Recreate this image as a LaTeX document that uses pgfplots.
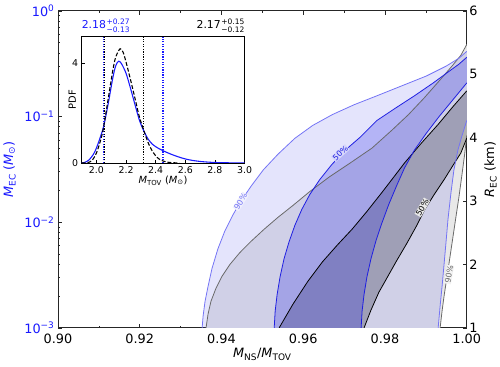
\documentclass[border=0pt]{standalone}
\usepackage{fontspec}
\setmainfont{DejaVu Sans}
\setsansfont{DejaVu Sans}
\usepackage{pgfplots}
\pgfplotsset{compat=1.18}
\usepgfplotslibrary{fillbetween}
\definecolor{mplblue}{RGB}{25,25,255}
\definecolor{bnine}{RGB}{115,115,245}
\definecolor{bfive}{RGB}{30,30,225}
\definecolor{bfill}{RGB}{48,48,230}
\definecolor{gninefill}{RGB}{232,232,232}
\definecolor{gfivefill}{RGB}{176,176,176}
\definecolor{gnineline}{RGB}{105,105,105}
\begin{document}
\begin{tikzpicture}
% ---------------- R_EC (gray) axis ----------------
\begin{axis}[
  at={(0pt,0pt)}, anchor=south west,
  scale only axis, width=414pt, height=321pt,
  set layers,
  xmin=0.9, xmax=1.0, ymin=1, ymax=6,
  hide x axis,
  axis y line*=right,
  ytick={1,2,3,4,5,6},
  tick align=inside,
  major tick length=4pt,
  yticklabel style={font=\fontsize{13}{15}\selectfont, /pgf/number format/assume math mode=true, inner sep=2.5pt},
  ylabel={\textit{R}\textsubscript{EC} (km)},
  ylabel style={font=\fontsize{13}{15}\selectfont, at={(axis description cs:1.058,0.5)}, anchor=center},
  axis line style={line width=0.8pt, black!85},
  every tick/.style={black!85, line width=0.6pt},
]
\addplot[gnineline, line width=0.8pt, name path=GNL] coordinates {
(0.93623,1.000) (0.93672,1.218) (0.93744,1.421) (0.93865,1.623) (0.94010,1.810)
(0.94203,1.997) (0.94445,2.184) (0.94734,2.371) (0.95048,2.558) (0.95386,2.745)
(0.95749,2.931) (0.96160,3.150) (0.96643,3.383) (0.97150,3.601) (0.97681,3.835)
(0.98164,4.115) (0.98575,4.364) (0.98962,4.629) (0.99324,4.894) (0.99638,5.128)
(0.99855,5.299) (1.00000,5.470)};
\addplot[gnineline, line width=0.8pt, name path=GNR] coordinates {
(0.99348,1.000) (0.99396,1.265) (0.99444,1.498) (0.99517,1.810) (0.99590,2.121)
(0.99662,2.433) (0.99734,2.745) (0.99807,3.056) (0.99879,3.399) (0.99952,3.757)
(1.00000,4.037)};
\addplot[black, line width=0.8pt, name path=GFL] coordinates {
(0.95411,1.000) (0.95749,1.374) (0.96111,1.732) (0.96474,2.044) (0.96836,2.308)
(0.97198,2.558) (0.97560,2.838) (0.97923,3.134) (0.98164,3.336) (0.98478,3.601)
(0.98889,3.913) (0.99300,4.209) (0.99662,4.489) (1.00000,4.738)};
\addplot[black, line width=0.8pt, name path=GFR] coordinates {
(0.97488,1.000) (0.97657,1.280) (0.97850,1.561) (0.98068,1.810) (0.98285,2.059)
(0.98527,2.324) (0.98768,2.604) (0.98961,2.854) (0.99203,3.103) (0.99444,3.336)
(0.99686,3.586) (0.99855,3.757) (1.00000,3.991)};
\addplot[fill=gninefill, draw=none] fill between[of=GNL and GNR];
\addplot[fill=gfivefill, draw=none] fill between[of=GFL and GFR];
\node[rotate=60, font=\fontsize{8}{9}\selectfont, fill=gninefill, inner sep=0.6pt] at (axis cs:0.98913,2.900) {50\%};
\node[rotate=80, text=gnineline, font=\fontsize{8}{9}\selectfont, fill=gninefill!50!white, inner sep=0.6pt] at (axis cs:0.99565,1.841) {90\%};
\end{axis}
% ---------------- M_EC (blue) axis ----------------
\begin{axis}[
  at={(0pt,0pt)}, anchor=south west,
  scale only axis, width=414pt, height=321pt,
  set layers,
  xmin=0.9, xmax=1.0, ymode=log, ymin=1e-3, ymax=1,
  xtick={0.9,0.92,0.94,0.96,0.98,1.0},
  xticklabels={0.90,0.92,0.94,0.96,0.98,1.00},
  minor xtick={0.91,0.93,0.95,0.97,0.99},
  ytick={0.001,0.01,0.1,1},
  yticklabels={10\textsuperscript{−3},10\textsuperscript{−2},10\textsuperscript{−1},10\textsuperscript{0}},
  minor ytick={0.002,0.003,0.004,0.005,0.006,0.007,0.008,0.009,0.02,0.03,0.04,0.05,0.06,0.07,0.08,0.09,0.2,0.3,0.4,0.5,0.6,0.7,0.8,0.9},
  xtick pos=both, ytick pos=left,
  tick align=inside,
  major tick length=4pt, minor tick length=2pt,
  xticklabel style={font=\fontsize{13}{15}\selectfont, yshift=-3pt},
  yticklabel style={font=\fontsize{13}{15}\selectfont, text=mplblue},
  xlabel={\textit{M}\textsubscript{NS}/\textit{M}\textsubscript{TOV}},
  xlabel style={font=\fontsize{13}{15}\selectfont, at={(axis description cs:0.5,-0.083)}, anchor=center},
  ylabel={\textit{M}\textsubscript{EC} (\textit{M}\textsubscript{⊙})},
  ylabel style={font=\fontsize{13}{15}\selectfont, text=mplblue, at={(axis description cs:-0.1184,0.5)}, anchor=center},
  axis line style={line width=0.8pt, black!85},
  every tick/.style={black!85, line width=0.6pt},
]
\addplot[bnine, line width=0.8pt, name path=BNL] coordinates {
(0.93527,0.001000) (0.93551,0.001294) (0.93599,0.001788) (0.93672,0.002470)
(0.93768,0.003637) (0.93913,0.005593) (0.94082,0.008237) (0.94275,0.01162)
(0.94469,0.01571) (0.94734,0.02217) (0.95024,0.03128) (0.95386,0.04414)
(0.95797,0.06228) (0.96232,0.08237) (0.96715,0.1044) (0.97246,0.1294)
(0.97802,0.1571) (0.98406,0.1949) (0.99010,0.2416) (0.99493,0.2996)
(0.99807,0.3558) (1.00000,0.4138)};
\addplot[bnine, line width=0.8pt, name path=BNR] coordinates {
(0.99300,0.001000) (0.99348,0.001606) (0.99396,0.002470) (0.99444,0.003963)
(0.99493,0.006502) (0.99541,0.01067) (0.99614,0.01907) (0.99686,0.03128)
(0.99783,0.04811) (0.99879,0.06502) (1.00000,0.09176)};
\addplot[bfive, line width=0.8pt, name path=BFL] coordinates {
(0.95290,0.001000) (0.95314,0.001442) (0.95362,0.002079) (0.95435,0.003062)
(0.95531,0.004510) (0.95652,0.006502) (0.95797,0.009376) (0.95966,0.01323)
(0.96160,0.01827) (0.96401,0.02522) (0.96691,0.03484) (0.97029,0.04811)
(0.97391,0.06366) (0.97802,0.09176) (0.98237,0.1188) (0.98720,0.1571)
(0.99179,0.2079) (0.99541,0.2634) (0.99807,0.3128) (1.00000,0.3636)};
\addplot[bfive, line width=0.8pt, name path=BFR] coordinates {
(0.97416,0.001000) (0.97440,0.001442) (0.97488,0.002079) (0.97560,0.003062)
(0.97657,0.004510) (0.97778,0.006644) (0.97923,0.009786) (0.98092,0.01473)
(0.98285,0.02217) (0.98478,0.03266) (0.98720,0.04811) (0.99010,0.06937)
(0.99324,0.1000) (0.99662,0.1442) (1.00000,0.2079)};
\addplot[fill=bfill, fill opacity=0.13, draw=none] fill between[of=BNL and BNR];
\addplot[fill=bfill, fill opacity=0.27, draw=none] fill between[of=BFL and BFR];
\node[rotate=58, text=bnine, font=\fontsize{8}{9}\selectfont, fill={rgb,255:red,240;green,240;blue,253}, inner sep=0.6pt] at (axis cs:0.94469,0.0157) {90\%};
\node[rotate=42, text=bfive, font=\fontsize{8}{9}\selectfont, fill={rgb,255:red,215;green,215;blue,251}, inner sep=0.6pt] at (axis cs:0.96908,0.0451) {50\%};
\end{axis}
% ---------------- inset ----------------
\begin{axis}[
  at={(24pt,167pt)}, anchor=south west,
  scale only axis, width=165pt, height=128pt,
  xmin=1.9, xmax=3.0, ymin=0, ymax=5.08,
  xtick={2.0,2.2,2.4,2.6,2.8,3.0},
  xticklabels={2.0,2.2,2.4,2.6,2.8,3.0},
  ytick={0,4}, yticklabels={0,4},
  xtick pos=left, ytick pos=left,
  tick align=inside, major tick length=3pt,
  axis background/.style={fill=white},
  tick label style={font=\fontsize{9.5}{11}\selectfont},
  xticklabel style={yshift=-0.5pt},
  xlabel={\textit{M}\textsubscript{TOV} (\textit{M}\textsubscript{⊙})},
  xlabel style={font=\fontsize{10}{12}\selectfont, at={(axis description cs:0.5,-0.14)}, anchor=center},
  ylabel={PDF},
  ylabel style={font=\fontsize{10}{12}\selectfont, at={(axis description cs:-0.058,0.5)}, anchor=center},
  axis line style={line width=0.7pt},
  every tick/.style={black, line width=0.5pt},
]
\addplot[black, line width=1.2pt, dash pattern=on 1.2pt off 1.4pt] coordinates {(2.054,0) (2.054,5.08)};
\addplot[black, line width=1.2pt, dash pattern=on 1.2pt off 1.4pt] coordinates {(2.32,0) (2.32,5.08)};
\addplot[mplblue, line width=1.3pt, dash pattern=on 1.2pt off 1.4pt] coordinates {(2.046,0) (2.046,5.08)};
\addplot[mplblue, line width=1.3pt, dash pattern=on 1.2pt off 1.4pt] coordinates {(2.45,0) (2.45,5.08)};
\addplot[mplblue, line width=1.1pt, smooth] coordinates {
(1.90,0) (1.92,0.02) (1.95,0.12) (1.98,0.35) (2.00,0.6) (2.03,1.1) (2.05,1.5)
(2.08,2.4) (2.11,3.4) (2.13,3.9) (2.15,4.09) (2.17,3.98) (2.20,3.6) (2.23,3.0)
(2.26,2.35) (2.29,1.72) (2.32,1.28) (2.35,0.95) (2.38,0.74) (2.42,0.58) (2.45,0.49)
(2.50,0.36) (2.55,0.25) (2.60,0.16) (2.65,0.1) (2.70,0.06) (2.75,0.035) (2.80,0.018)
(2.90,0.005) (3.00,0.001)};
\addplot[black, line width=1.1pt, dash pattern=on 4pt off 2pt, smooth] coordinates {
(1.90,0) (1.94,0.01) (1.97,0.1) (2.00,0.4) (2.03,0.95) (2.05,1.5) (2.08,2.6)
(2.11,3.7) (2.13,4.25) (2.16,4.59) (2.18,4.45) (2.20,4.05) (2.23,3.35) (2.26,2.6)
(2.29,1.85) (2.32,1.3) (2.35,0.8) (2.38,0.45) (2.41,0.22) (2.44,0.1) (2.48,0.03)
(2.52,0.008) (2.56,0)};
\end{axis}
\node[anchor=west, inner sep=0pt, text=mplblue] at (24pt,305pt) {{\fontsize{11}{12}\selectfont 2.18}\kern0.6pt{\fontsize{7.6}{8}\selectfont\def\arraystretch{1}\begin{tabular}{@{}l@{}}+0.27\\−0.13\end{tabular}}};
\node[anchor=east, inner sep=0pt, text=black] at (189pt,305pt) {{\fontsize{11}{12}\selectfont 2.17}\kern0.6pt{\fontsize{7.6}{8}\selectfont\def\arraystretch{1}\begin{tabular}{@{}l@{}}+0.15\\−0.12\end{tabular}}};
\path (-57pt,-39pt) rectangle (443pt,332pt);
\end{tikzpicture}
\end{document}
